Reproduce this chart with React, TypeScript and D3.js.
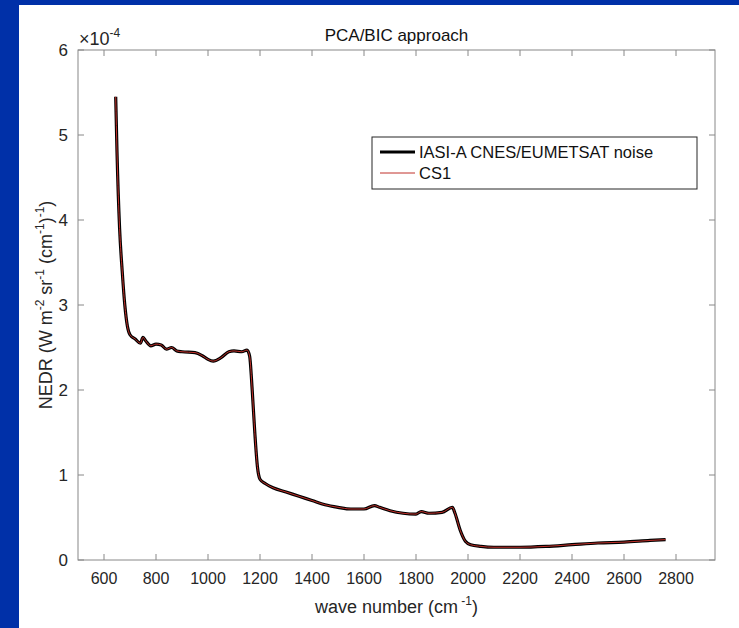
import React, { useEffect, useRef } from "react";
import * as d3 from "d3";

// wave number (cm^-1) and NEDR (x1e-4)
const waveNumber = [645, 650, 660, 670, 680, 690, 700, 720, 740, 750, 760, 780, 800, 820, 840, 860, 880, 900, 950, 980, 1000, 1020, 1050, 1080, 1100, 1130, 1150, 1160, 1170, 1180, 1190, 1200, 1220, 1250, 1300, 1350, 1400, 1450, 1500, 1550, 1600, 1640, 1660, 1700, 1750, 1800, 1820, 1850, 1900, 1940, 1950, 1970, 1990, 2010, 2050, 2100, 2200, 2300, 2400, 2500, 2600, 2700, 2760];
const noise = [5.45, 4.8, 3.9, 3.4, 3.0, 2.75, 2.65, 2.6, 2.55, 2.62, 2.58, 2.52, 2.54, 2.53, 2.48, 2.5, 2.46, 2.45, 2.44, 2.4, 2.36, 2.34, 2.38, 2.45, 2.46, 2.45, 2.47, 2.4, 2.0, 1.5, 1.1, 0.95, 0.9, 0.85, 0.8, 0.75, 0.7, 0.65, 0.62, 0.6, 0.6, 0.64, 0.62, 0.58, 0.55, 0.54, 0.57, 0.55, 0.56, 0.62, 0.55, 0.35, 0.22, 0.18, 0.16, 0.15, 0.15, 0.16, 0.18, 0.2, 0.21, 0.23, 0.24];
const cs1 = noise.slice();
const xTicks = [600, 800, 1000, 1200, 1400, 1600, 1800, 2000, 2200, 2400, 2600, 2800];
const yTicks = [0, 1, 2, 3, 4, 5, 6];

const W = 739, H = 628;
const FONT = "Liberation Sans, Arial, sans-serif";

export default function App() {
  const ref = useRef<SVGSVGElement>(null);
  useEffect(() => {
    const svg = d3.select(ref.current);
    svg.selectAll("*").remove();
    svg.append("rect").attr("width", W).attr("height", H).attr("fill", "#0030a8");
    svg.append("rect").attr("x", 19).attr("y", 5).attr("width", W - 19).attr("height", H - 5).attr("fill", "#fff");

    const L = 78, R = 715, T = 50, B = 560;
    const x = d3.scaleLinear().domain([500, 2950]).range([L, R]);
    const y = d3.scaleLinear().domain([0, 6]).range([B, T]);
    const g = svg.append("g").attr("font-family", FONT);

    g.append("rect").attr("x", L).attr("y", T).attr("width", R - L).attr("height", B - T)
      .attr("fill", "none").attr("stroke", "#888").attr("stroke-width", 1);

    xTicks.forEach((t) => {
      g.append("line").attr("x1", x(t)).attr("x2", x(t)).attr("y1", B).attr("y2", B - 6).attr("stroke", "#888");
      g.append("line").attr("x1", x(t)).attr("x2", x(t)).attr("y1", T).attr("y2", T + 6).attr("stroke", "#888");
      g.append("text").attr("x", x(t)).attr("y", B + 24).attr("text-anchor", "middle")
        .attr("font-size", 16).attr("fill", "#262626").text(t);
    });
    yTicks.forEach((t) => {
      g.append("line").attr("x1", L).attr("x2", L + 6).attr("y1", y(t)).attr("y2", y(t)).attr("stroke", "#888");
      g.append("line").attr("x1", R).attr("x2", R - 6).attr("y1", y(t)).attr("y2", y(t)).attr("stroke", "#888");
      g.append("text").attr("x", L - 10).attr("y", y(t) + 6).attr("text-anchor", "end")
        .attr("font-size", 17).attr("fill", "#262626").text(t);
    });

    const exp = g.append("text").attr("x", L + 1).attr("y", T - 5).attr("font-size", 18).attr("fill", "#262626");
    exp.append("tspan").text("×10");
    exp.append("tspan").attr("dy", -8).attr("font-size", 12).text("-4");

    g.append("text").attr("x", (L + R) / 2).attr("y", T - 9).attr("text-anchor", "middle")
      .attr("font-size", 17).attr("fill", "#111").text("PCA/BIC approach");

    const xl = g.append("text").attr("x", (L + R) / 2).attr("y", 613).attr("text-anchor", "middle")
      .attr("font-size", 18).attr("fill", "#262626");
    xl.append("tspan").text("wave number (cm");
    xl.append("tspan").attr("dy", -8).attr("font-size", 12).text(" -1");
    xl.append("tspan").attr("dy", 8).text(")");

    const yl = g.append("text").attr("transform", `translate(52,${(T + B) / 2}) rotate(-90)`)
      .attr("text-anchor", "middle").attr("font-size", 18).attr("fill", "#262626");
    yl.append("tspan").text("NEDR (W m");
    yl.append("tspan").attr("dy", -8).attr("font-size", 12).text("-2");
    yl.append("tspan").attr("dy", 8).text(" sr");
    yl.append("tspan").attr("dy", -8).attr("font-size", 12).text("-1");
    yl.append("tspan").attr("dy", 8).text(" (cm");
    yl.append("tspan").attr("dy", -8).attr("font-size", 12).text("-1");
    yl.append("tspan").attr("dy", 8).text(")");
    yl.append("tspan").attr("dy", -8).attr("font-size", 12).text("-1");
    yl.append("tspan").attr("dy", 8).text(")");

    const line = d3.line<number>().x((_, i) => x(waveNumber[i])).y((d) => y(d)).curve(d3.curveMonotoneX);
    g.append("path").attr("d", line(noise)).attr("fill", "none").attr("stroke", "#000").attr("stroke-width", 3.2);
    g.append("path").attr("d", line(cs1)).attr("fill", "none").attr("stroke", "#c0302a").attr("stroke-width", 1);

    const lx = 372, ly = 137;
    g.append("rect").attr("x", lx).attr("y", ly).attr("width", 325).attr("height", 52)
      .attr("fill", "#fff").attr("stroke", "#262626").attr("stroke-width", 1);
    g.append("line").attr("x1", lx + 8).attr("x2", lx + 43).attr("y1", ly + 15).attr("y2", ly + 15)
      .attr("stroke", "#000").attr("stroke-width", 3.2);
    g.append("text").attr("x", lx + 47).attr("y", ly + 21).attr("font-size", 16.5).attr("fill", "#111")
      .text("IASI-A CNES/EUMETSAT noise");
    g.append("line").attr("x1", lx + 8).attr("x2", lx + 43).attr("y1", ly + 36).attr("y2", ly + 36)
      .attr("stroke", "#c0302a").attr("stroke-width", 1);
    g.append("text").attr("x", lx + 47).attr("y", ly + 42).attr("font-size", 16.5).attr("fill", "#111").text("CS1");
  }, []);
  return <svg ref={ref} width={W} height={H} style={{ position: "absolute", left: 0, top: 0 }} />;
}
